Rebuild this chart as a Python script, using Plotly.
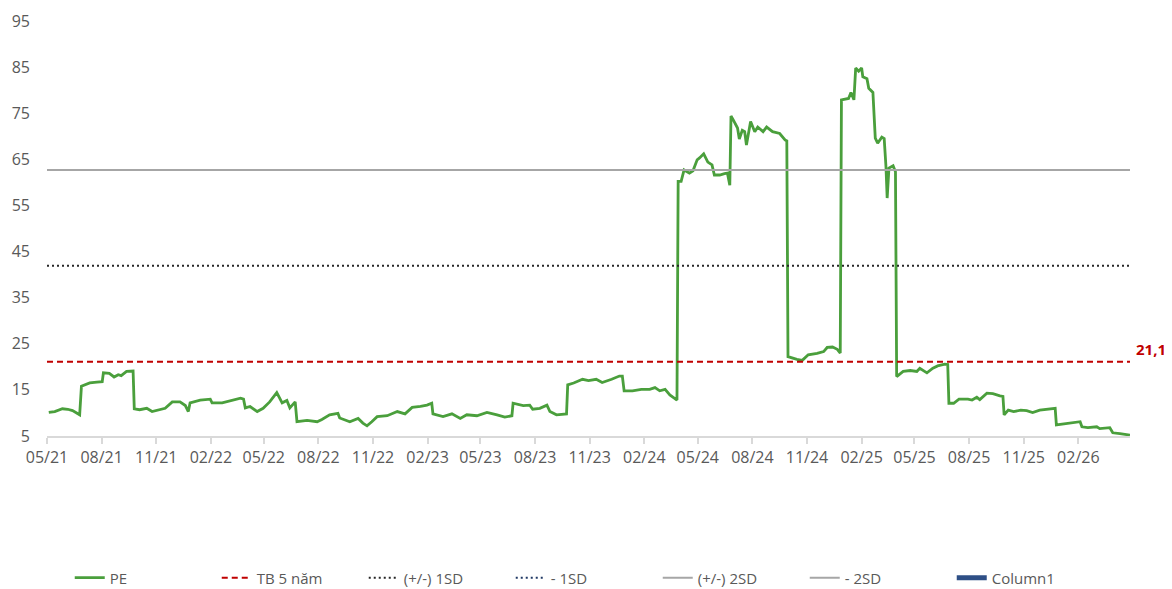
import plotly.graph_objects as go

# ---------------- data ----------------
pe_dates = [
    "2021-05-04", "2021-05-14", "2021-05-27", "2021-06-05", "2021-06-13", "2021-06-22", "2021-06-25",
    "2021-06-28", "2021-07-12", "2021-07-24", "2021-08-02",
    "2021-08-04", "2021-08-14", "2021-08-22", "2021-08-29", "2021-09-03", "2021-09-12", "2021-09-23",
    "2021-09-25", "2021-10-04", "2021-10-16", "2021-10-25", "2021-11-04", "2021-11-16", "2021-11-28",
    "2021-12-11", "2021-12-20", "2021-12-25", "2021-12-28", "2022-01-14", "2022-01-31", "2022-02-03",
    "2022-02-20", "2022-03-09", "2022-03-23", "2022-03-28", "2022-03-31", "2022-04-08", "2022-04-20",
    "2022-04-30", "2022-05-11", "2022-05-23", "2022-05-28", "2022-06-01", "2022-06-09", "2022-06-14",
    "2022-06-23", "2022-06-26", "2022-07-13", "2022-07-30", "2022-08-07", "2022-08-20", "2022-09-03",
    "2022-09-06", "2022-09-23", "2022-10-07", "2022-10-15", "2022-10-22", "2022-10-30", "2022-11-08",
    "2022-11-25", "2022-12-12", "2022-12-25", "2023-01-06", "2023-01-20", "2023-01-31", "2023-02-08",
    "2023-02-10", "2023-02-27", "2023-03-14", "2023-03-28", "2023-04-08", "2023-04-25", "2023-05-12",
    "2023-05-29", "2023-06-11", "2023-06-23", "2023-06-25", "2023-07-12", "2023-07-23", "2023-07-28",
    "2023-08-09", "2023-08-21", "2023-08-26", "2023-09-06", "2023-09-23",
    "2023-09-25", "2023-10-05", "2023-10-20", "2023-10-30", "2023-11-12", "2023-11-22", "2023-12-08",
    "2023-12-21", "2023-12-26", "2023-12-29", "2024-01-12", "2024-01-27", "2024-02-10", "2024-02-19",
    "2024-02-27", "2024-03-07", "2024-03-15", "2024-03-27",
    "2024-03-29", "2024-04-03", "2024-04-08", "2024-04-17", "2024-04-23", "2024-04-30", "2024-05-04",
    "2024-05-11", "2024-05-18", "2024-05-25", "2024-05-29", "2024-06-07", "2024-06-15", "2024-06-20",
    "2024-06-24",
    "2024-06-26", "2024-06-30", "2024-07-07", "2024-07-10", "2024-07-15", "2024-07-19", "2024-07-22",
    "2024-07-29", "2024-08-05", "2024-08-10", "2024-08-19", "2024-08-25", "2024-09-04", "2024-09-16",
    "2024-09-25", "2024-09-28",
    "2024-09-30", "2024-10-15", "2024-10-24", "2024-11-03", "2024-11-18", "2024-11-29", "2024-12-05",
    "2024-12-14", "2024-12-22", "2024-12-27",
    "2024-12-29", "2025-01-10", "2025-01-14", "2025-01-19", "2025-01-22", "2025-01-27", "2025-02-01",
    "2025-02-03", "2025-02-10", "2025-02-13", "2025-02-20", "2025-02-24", "2025-02-28", "2025-03-07",
    "2025-03-11", "2025-03-14", "2025-03-16", "2025-03-19", "2025-03-26", "2025-03-30",
    "2025-04-01", "2025-04-12", "2025-04-24", "2025-05-05", "2025-05-10", "2025-05-22", "2025-06-01",
    "2025-06-09", "2025-06-21", "2025-06-26",
    "2025-06-28", "2025-07-06", "2025-07-15", "2025-07-30", "2025-08-06", "2025-08-14", "2025-08-19",
    "2025-08-31", "2025-09-10", "2025-09-22", "2025-09-27",
    "2025-09-29", "2025-10-06", "2025-10-15", "2025-10-27", "2025-11-06", "2025-11-16", "2025-11-28",
    "2025-12-20", "2025-12-24",
    "2025-12-26", "2026-02-04", "2026-02-07", "2026-02-17", "2026-03-04", "2026-03-09", "2026-03-26",
    "2026-03-31", "2026-04-12", "2026-04-29",
]
pe_values = [
    10.1, 10.3, 10.9, 10.8, 10.5, 9.9, 9.6,
    15.8, 16.5, 16.7, 16.8,
    18.7, 18.6, 17.8, 18.3, 18.1, 19.0, 19.1,
    10.9, 10.7, 11.0, 10.3, 10.6, 11.0, 12.4,
    12.4, 11.6, 10.3, 12.2, 12.8, 13.0, 12.2,
    12.2, 12.7, 13.2, 13.0, 11.1, 11.4, 10.3,
    11.0, 12.4, 14.4, 13.2, 12.2, 12.7, 11.1,
    12.4, 8.1, 8.4, 8.1, 8.6, 9.6, 9.9,
    8.9, 8.1, 8.8, 7.8, 7.2, 8.1, 9.2,
    9.4, 10.3, 9.8, 11.2, 11.4, 11.7, 12.1,
    9.8, 9.2, 9.8, 8.8, 9.6, 9.4, 10.1,
    9.6, 9.1, 9.4, 12.1, 11.6, 11.7, 10.8,
    11.0, 11.7, 10.3, 9.6, 9.8,
    16.1, 16.5, 17.3, 17.0, 17.3, 16.6, 17.3,
    18.0, 18.0, 14.8, 14.8, 15.1, 15.1, 15.5,
    14.8, 15.1, 13.9, 12.8,
    60.2, 60.2, 62.7, 62.0, 62.5, 64.9, 65.3,
    66.2, 64.4, 63.8, 61.6, 61.6, 61.9, 62.0,
    59.4,
    74.4, 73.5, 71.8, 69.4, 71.3, 71.0, 68.1,
    73.2, 71.0, 72.0, 71.0, 72.0, 71.0, 70.6,
    69.2, 69.0,
    22.2, 21.6, 21.4, 22.6, 22.9, 23.3, 24.2,
    24.3, 23.8, 23.0,
    77.9, 78.2, 79.5, 77.9, 84.8, 84.1, 84.8,
    82.9, 82.5, 80.4, 79.5, 69.6, 68.5, 69.8,
    69.5, 63.4, 56.6, 63.1, 63.6, 62.3,
    17.9, 19.0, 19.2, 19.0, 19.7, 18.7, 19.7,
    20.2, 20.6, 20.5,
    12.1, 12.1, 13.0, 13.0, 12.8, 13.4, 12.9,
    14.3, 14.2, 13.7, 13.6,
    9.6, 10.6, 10.3, 10.6, 10.5, 10.1, 10.6,
    11.0, 11.0,
    7.4, 8.1, 7.0, 6.8, 7.0, 6.6, 6.8,
    5.7, 5.5, 5.2,
]

band_dates = ["2021-05-01", "2026-04-29"]
tb_5nam = 21.1
sd1_up = 41.9
sd1_down = 0.3
sd2_up = 62.7
sd2_down = -20.5

y_ticks = [5, 15, 25, 35, 45, 55, 65, 75, 85, 95]

# ---------------- figure ----------------
FONT = "Open Sans"
TXT = "#595959"

fig = go.Figure()

fig.add_trace(go.Scatter(x=pe_dates, y=pe_values, mode="lines", name="PE",
                         line=dict(color="#4a9f3c", width=2.8)))
fig.add_trace(go.Scatter(x=band_dates, y=[tb_5nam] * 2, mode="lines", name="TB 5 năm",
                         line=dict(color="#c00000", width=2, dash="6px,4px")))
fig.add_trace(go.Scatter(x=band_dates, y=[sd1_up] * 2, mode="lines", name="(+/-) 1SD",
                         line=dict(color="#262626", width=2, dash="2px,3px")))
fig.add_trace(go.Scatter(x=band_dates, y=[sd1_down] * 2, mode="lines", name="- 1SD",
                         line=dict(color="#1f3864", width=2, dash="2px,3px")))
fig.add_trace(go.Scatter(x=band_dates, y=[sd2_up] * 2, mode="lines", name="(+/-) 2SD",
                         line=dict(color="#a6a6a6", width=2)))
fig.add_trace(go.Scatter(x=band_dates, y=[sd2_down] * 2, mode="lines", name="- 2SD",
                         line=dict(color="#a6a6a6", width=2)))
fig.add_trace(go.Scatter(x=[None], y=[None], mode="lines", name="Column1",
                         line=dict(color="#2e4f86", width=5)))

fig.add_annotation(x=band_dates[-1], y=tb_5nam, xref="x", yref="y",
                   text="<b>21,1</b>", showarrow=False, xanchor="left", yanchor="bottom",
                   xshift=4, yshift=1, font=dict(color="#c00000", size=15, family=FONT))

fig.update_layout(
    width=1164, height=581,
    margin=dict(l=39, r=42, t=13, b=153, autoexpand=False),
    paper_bgcolor="white", plot_bgcolor="white",
    font=dict(family=FONT, size=16, color=TXT),
    showlegend=True,
    legend=dict(orientation="h", x=0.021, xanchor="left", y=-0.342, yanchor="middle",
                font=dict(size=15, color=TXT), entrywidth=102, traceorder="normal",
                bgcolor="rgba(0,0,0,0)"),
    xaxis=dict(
        type="date",
        range=["2021-05-01", "2026-04-29"],
        tick0="2021-05-01", dtick="M3", tickformat="%m/%y",
        showgrid=False, zeroline=False, automargin=False,
        showline=True, linecolor="#d9d9d9", linewidth=1.5,
        ticks="outside", ticklen=6, tickcolor="#d9d9d9", tickwidth=1.5,
        tickfont=dict(size=16, color=TXT, family=FONT),
    ),
    yaxis=dict(
        range=[5, 95], tickvals=y_ticks, automargin=False,
        showgrid=False, zeroline=False, showline=False, ticks="",
        ticklabelstandoff=16,
        tickfont=dict(size=16, color=TXT, family=FONT),
    ),
)

fig.write_html("out.html")
